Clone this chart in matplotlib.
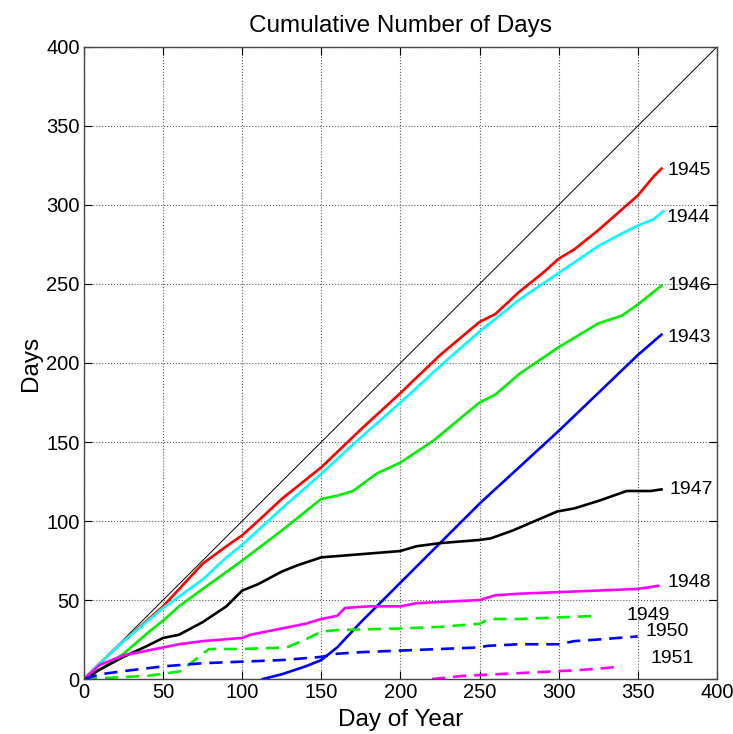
import matplotlib
matplotlib.use("Agg")
import matplotlib.pyplot as plt
import numpy as np

plt.rcParams['font.family'] = ['Liberation Sans', 'DejaVu Sans']

# ---- data ----
x1945 = [0, 10, 25, 50, 75, 90, 100, 110, 125, 150, 175, 200, 225, 250, 260, 275, 290, 300, 310, 325, 350, 360, 365]
y1945 = [0, 10, 24, 46, 73, 84, 91, 100, 114, 134, 158, 181, 205, 226, 231, 245, 257, 266, 272, 284, 306, 318, 323]

x1944 = [0, 10, 25, 50, 75, 90, 100, 125, 150, 175, 200, 225, 250, 275, 300, 325, 340, 350, 360, 366]
y1944 = [0, 10, 24, 45, 63, 77, 85, 108, 130, 153, 175, 198, 220, 240, 257, 274, 282, 287, 291, 296]

x1946 = [0, 10, 25, 40, 50, 60, 75, 100, 125, 150, 160, 170, 185, 200, 221, 250, 260, 275, 300, 325, 340, 350, 360, 365]
y1946 = [0, 6, 16, 29, 37, 46, 57, 75, 94, 114, 116, 119, 130, 137, 151, 175, 180, 193, 210, 225, 230, 237, 245, 249]

x1943 = [113, 125, 140, 150, 160, 175, 200, 225, 250, 275, 300, 325, 350, 365]
y1943 = [0, 3, 8, 12, 20, 36, 61, 86, 111, 134, 157, 181, 205, 218]

x1947 = [0, 10, 25, 40, 50, 60, 75, 90, 100, 110, 125, 135, 150, 175, 200, 210, 225, 250, 257, 271, 285, 299, 310, 326, 343, 358, 365]
y1947 = [0, 6, 14, 21, 26, 28, 36, 46, 56, 60, 68, 72, 77, 79, 81, 84, 86, 88, 89, 94, 100, 106, 108, 113, 119, 119, 120]

x1948 = [0, 10, 25, 40, 50, 60, 75, 100, 105, 125, 140, 150, 160, 165, 180, 200, 210, 250, 260, 275, 300, 325, 350, 363]
y1948 = [0, 9, 15, 18, 20, 22, 24, 26, 28, 32, 35, 38, 40, 45, 46, 46, 48, 50, 53, 54, 55, 56, 57, 59]

x1949 = [0, 20, 40, 55, 61, 70, 79, 100, 128, 140, 150, 160, 200, 225, 250, 256, 275, 300, 325]
y1949 = [0, 1, 2, 4, 5, 12, 19, 19, 20, 25, 30, 31, 32, 33, 35, 38, 38, 39, 40]

x1950 = [0, 10, 25, 50, 75, 100, 125, 150, 160, 175, 200, 225, 250, 255, 275, 300, 310, 325, 350]
y1950 = [0, 3, 5, 8, 10, 11, 12, 14, 16, 17, 18, 19, 20, 21, 22, 22, 24, 25, 27]

x1951 = [220, 240, 260, 280, 300, 310, 325, 340]
y1951 = [0, 2, 3, 4, 5, 5.5, 6.5, 8]

ref_x = [0, 400]
ref_y = [0, 400]

series = [
    ("1945", x1945, y1945, "#ff0000", "-", (369, 322)),
    ("1944", x1944, y1944, "#00ffff", "-", (368, 292)),
    ("1946", x1946, y1946, "#00ee00", "-", (369, 249)),
    ("1943", x1943, y1943, "#0000ff", "-", (369, 216)),
    ("1947", x1947, y1947, "#000000", "-", (370, 120)),
    ("1948", x1948, y1948, "#ff00ff", "-", (369, 61)),
    ("1949", x1949, y1949, "#00ee00", "--", (343, 40)),
    ("1950", x1950, y1950, "#0000ff", "--", (355, 30)),
    ("1951", x1951, y1951, "#ff00ff", "--", (358, 13)),
]

fig = plt.figure(figsize=(7.33, 7.34), dpi=100)
ax = fig.add_axes([0.1146, 0.0749, 0.8634, 0.8611])

ax.plot(ref_x, ref_y, color="black", lw=0.7)
for name, xs, ys, c, ls, (lx, ly) in series:
    if ls == "--":
        ax.plot(xs, ys, color=c, lw=1.9, dashes=(5, 3))
    else:
        ax.plot(xs, ys, color=c, lw=1.9)
    ax.text(lx, ly, name, fontsize=14, va="center", ha="left")

ax.set_xlim(0, 400)
ax.set_ylim(0, 400)
ax.set_xticks(np.arange(0, 401, 50))
ax.set_yticks(np.arange(0, 401, 50))
ax.tick_params(direction="in", top=True, right=True, length=6, labelsize=14.5, width=0.8, pad=3)
ax.grid(True, color="#333333", ls=":", lw=0.8, alpha=0.8)
for s in ax.spines.values():
    s.set_color("#444444")
    s.set_linewidth(1.0)
ax.set_xlabel("Day of Year", fontsize=17.5, labelpad=5)
ax.set_ylabel("Days", fontsize=17.5, labelpad=3)
ax.set_title("Cumulative Number of Days", fontsize=17.5, pad=11)

fig.savefig("out.png", dpi=100)
